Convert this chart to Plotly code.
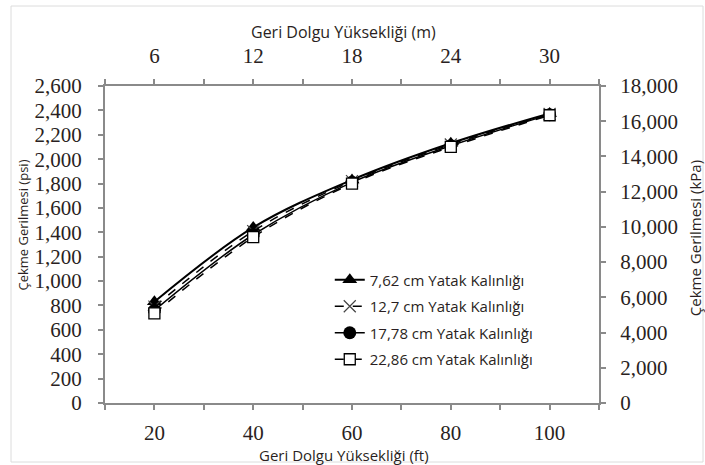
import plotly.graph_objects as go

# Backfill height (ft) and tensile stress (psi) for each bedding thickness
height_ft = [20, 40, 60, 80, 100]
stress_762 = [830, 1440, 1830, 2130, 2375]
stress_127 = [790, 1410, 1820, 2120, 2370]
stress_1778 = [760, 1380, 1810, 2110, 2365]
stress_2286 = [735, 1360, 1800, 2100, 2360]

series_names = [
    "7,62 cm Yatak Kalınlığı",
    "12,7 cm Yatak Kalınlığı",
    "17,78 cm Yatak Kalınlığı",
    "22,86 cm Yatak Kalınlığı",
]

left_ticks = list(range(0, 2601, 200))
right_ticks = list(range(0, 18001, 2000))
bottom_ticks = [20, 40, 60, 80, 100]
top_ticks = [6, 12, 18, 24, 30]

AX = "#8a8a8a"
TXT = "#2a1f22"
SERIF = "Liberation Serif, Times New Roman, serif"
SANS = "Open Sans, Lato, sans-serif"

styles = [
    dict(symbol="triangle-up", size=13, dash="solid", lw=2.0),
    dict(symbol="x-thin-open", size=12, dash="dash", lw=1.5),
    dict(symbol="circle", size=13, dash="solid", lw=1.5),
    dict(symbol="square", size=11, dash="dash", lw=1.5),
]

fig = go.Figure()
for i, (name, ys, st) in enumerate(zip(
        series_names, [stress_762, stress_127, stress_1778, stress_2286], styles)):
    if st["symbol"] == "square":
        marker = dict(symbol="square", size=st["size"], color="white",
                      line=dict(width=1.3, color="black"))
    elif st["symbol"] == "x-thin-open":
        marker = dict(symbol="x-thin-open", size=st["size"], color="#444",
                      line=dict(width=1.2, color="#444"))
    else:
        marker = dict(symbol=st["symbol"], size=st["size"], color="black",
                      line=dict(width=0))
    fig.add_trace(go.Scatter(
        x=height_ft, y=ys, name=name, mode="lines+markers",
        line=dict(color="black", width=st["lw"], dash=st["dash"], shape="spline"),
        marker=marker, legendgroup=f"g{i}",
    ))

# Secondary scales: metres on top, kPa on the right
fig.add_trace(go.Scatter(
    x=[h * 0.3 for h in height_ft], y=[s * 6.895 for s in stress_762],
    xaxis="x2", yaxis="y2", mode="markers", marker=dict(opacity=0),
    showlegend=False, hoverinfo="skip",
))

axis_common = dict(
    showline=True, linecolor=AX, linewidth=2, ticks="outside", ticklen=5,
    tickwidth=1.5, tickcolor=AX, showgrid=False, zeroline=False,
    tickfont=dict(family=SERIF, size=21, color=TXT),
)

fig.update_layout(
    width=705, height=465,
    margin=dict(l=105, r=106, t=86, b=62),
    paper_bgcolor="white", plot_bgcolor="white",
    showlegend=True,
    legend=dict(
        x=0.455, y=0.44, xanchor="left", yanchor="top",
        font=dict(family=SANS, size=15, color=TXT),
        bgcolor="rgba(0,0,0,0)", tracegroupgap=4, itemwidth=30,
    ),
    xaxis=dict(
        axis_common, range=[10, 110], tickvals=bottom_ticks,
        ticktext=[str(v) for v in bottom_ticks], ticklabelstandoff=5,
        minor=dict(dtick=10, tick0=0, ticks="outside", ticklen=5,
                   tickwidth=1.5, tickcolor=AX),
    ),
    xaxis2=dict(
        axis_common, range=[3, 33], overlaying="x", side="top", anchor="y",
        tickvals=top_ticks, ticktext=[str(v) for v in top_ticks],
        ticklabelstandoff=8,
        minor=dict(dtick=3, tick0=0, ticks="outside", ticklen=5,
                   tickwidth=1.5, tickcolor=AX),
    ),
    yaxis=dict(
        axis_common, range=[0, 2600], tickvals=left_ticks,
        ticktext=[f"{v:,}" for v in left_ticks], ticklabelstandoff=12,
    ),
    yaxis2=dict(
        axis_common, range=[0, 18000], overlaying="y", side="right", anchor="x",
        tickvals=right_ticks, ticktext=[f"{v:,}" for v in right_ticks],
        ticklabelstandoff=10,
    ),
    annotations=[
        dict(text="Geri Dolgu Yüksekliği (m)", xref="paper", yref="paper",
             x=0.483, y=1.0, yshift=54, xanchor="center", yanchor="middle",
             showarrow=False, font=dict(family=SANS, size=16, color=TXT)),
        dict(text="Geri Dolgu Yüksekliği (ft)", xref="paper", yref="paper",
             x=0.483, y=0.0, yshift=-52, xanchor="center", yanchor="middle",
             showarrow=False, font=dict(family=SANS, size=15, color=TXT)),
        dict(text="Çekme Gerilmesi (psi)", xref="paper", yref="paper",
             x=0.0, xshift=-82, y=0.56, xanchor="center", yanchor="middle",
             textangle=-90, showarrow=False,
             font=dict(family=SANS, size=13, color=TXT)),
        dict(text="Çekme Gerilmesi (kPa)", xref="paper", yref="paper",
             x=1.0, xshift=96, y=0.52, xanchor="center", yanchor="middle",
             textangle=-90, showarrow=False,
             font=dict(family=SANS, size=15, color=TXT)),
    ],
    shapes=[
        dict(type="rect", xref="paper", yref="paper",
             x0=-94 / 494, x1=598 / 494, y0=-59 / 317, y1=397 / 317,
             line=dict(color="#dcdcdc", width=1), fillcolor="rgba(0,0,0,0)",
             layer="below"),
    ],
)

fig.write_html("out.html")
